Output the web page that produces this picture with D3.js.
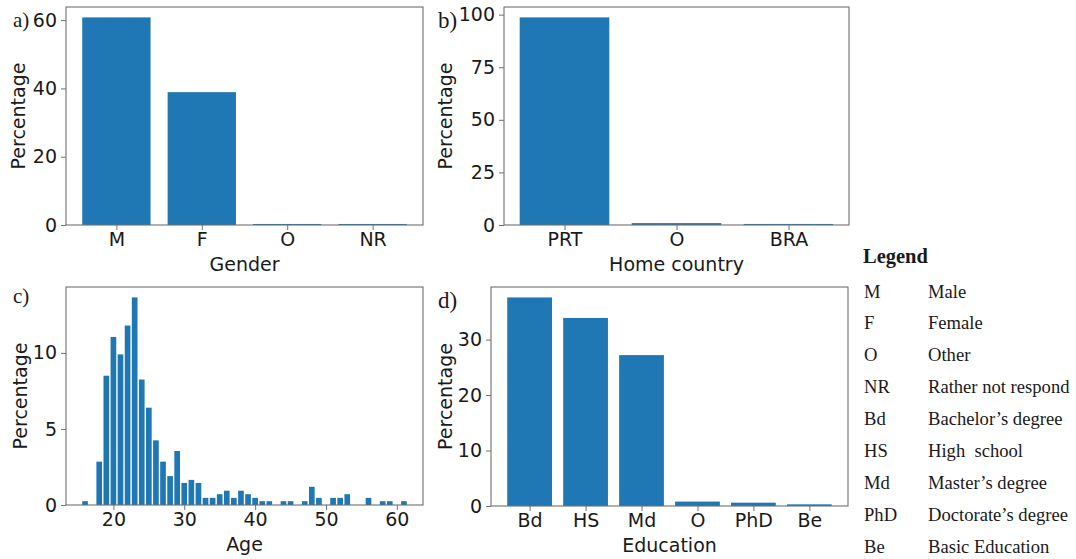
<!DOCTYPE html>
<html>
<head>
<meta charset="utf-8">
<script src="https://cdn.jsdelivr.net/npm/d3@7/dist/d3.min.js"></script>
<style>
  html, body { margin: 0; padding: 0; background: #fff; }
  svg { display: block; }
  .tick text { font-family: "DejaVu Sans", sans-serif; font-size: 19px; fill: #1a1a1a; }
  .axlabel { font-family: "DejaVu Sans", sans-serif; font-size: 19px; fill: #1a1a1a; }
  .panel { font-family: "Liberation Serif", "Times New Roman", serif; fill: #1a1a1a; }
  .leg { font-family: "Liberation Serif", "Times New Roman", serif; font-size: 18.6px; fill: #1a1a1a; }
</style>
</head>
<body>
<svg id="chart" width="1076" height="559"></svg>
<script>
// ---------- data ----------
const genderCats = ["M", "F", "O", "NR"];
const genderVals = [60.8, 38.9, 0.3, 0.3];

const countryCats = ["PRT", "O", "BRA"];
const countryVals = [98.7, 0.9, 0.5];

const ages = [16, 18, 19, 20, 21, 22, 23, 24, 25, 26, 27, 28, 29, 30, 31, 32, 33, 34, 35, 36, 37, 38, 39, 40,
              41, 42, 44, 45, 47, 48, 49, 51, 52, 53, 56, 58, 59, 61];
const agePct = [0.25, 2.85, 8.5, 11.05, 9.9, 11.8, 13.65, 8.25, 6.4, 4.25, 2.85, 1.9, 3.55, 1.45, 1.65, 1.45, 0.47, 0.47, 0.71, 0.94, 0.47, 0.94, 0.71, 0.47,
                0.25, 0.25, 0.25, 0.25, 0.25, 1.2, 0.47, 0.47, 0.47, 0.71, 0.47, 0.25, 0.25, 0.25];
const ageTicks = [20, 30, 40, 50, 60];

const eduCats = ["Bd", "HS", "Md", "O", "PhD", "Be"];
const eduVals = [37.6, 33.9, 27.2, 0.8, 0.6, 0.3];

const legendCodes = ["M", "F", "O", "NR", "Bd", "HS", "Md", "PhD", "Be"];
const legendNames = ["Male", "Female", "Other", "Rather not respond", "Bachelor\u2019s degree", "High  school",
                     "Master\u2019s degree", "Doctorate\u2019s degree", "Basic Education"];

// ---------- drawing ----------
const svg = d3.select("#chart");
const BLUE = "#1f77b4";
const SPINE = "#707070";

function frame(g, box) {
  g.append("rect")
    .attr("x", box.left).attr("y", box.top)
    .attr("width", box.right - box.left).attr("height", box.bottom - box.top)
    .attr("fill", "none").attr("stroke", SPINE).attr("stroke-width", 1.1);
}

function styleAxis(sel) {
  sel.select(".domain").remove();
  sel.selectAll(".tick line").attr("stroke", SPINE).attr("stroke-width", 1);
}

function yAxis(g, box, y, ticks, labelOffset) {
  const ax = g.append("g").attr("transform", `translate(${box.left},0)`)
    .call(d3.axisLeft(y).tickValues(ticks).tickSize(5).tickPadding(4).tickFormat(d3.format("d")));
  styleAxis(ax);
  g.append("text").attr("class", "axlabel")
    .attr("transform", `translate(${box.left - labelOffset},${(box.top + box.bottom) / 2}) rotate(-90)`)
    .attr("text-anchor", "middle").text("Percentage");
}

function xLabel(g, box, text) {
  g.append("text").attr("class", "axlabel")
    .attr("x", (box.left + box.right) / 2).attr("y", box.bottom + 46)
    .attr("text-anchor", "middle").text(text);
}

function categoryPanel(box, cats, vals, yTicks, xTitle, labelOffset) {
  const g = svg.append("g");
  const n = cats.length;
  const m = 0.05 * (n - 0.2);
  const x = d3.scaleLinear().domain([-0.4 - m, n - 0.6 + m]).range([box.left, box.right]);
  const y = d3.scaleLinear().domain([0, d3.max(vals) * 1.05]).range([box.bottom, box.top]);
  g.selectAll("rect.bar").data(vals).join("rect").attr("class", "bar")
    .attr("x", (d, i) => x(i - 0.4))
    .attr("width", (d, i) => x(i + 0.4) - x(i - 0.4))
    .attr("y", d => y(d))
    .attr("height", d => y(0) - y(d))
    .attr("fill", BLUE);
  frame(g, box);
  const xa = g.append("g").attr("transform", `translate(0,${box.bottom})`)
    .call(d3.axisBottom(x).tickValues(d3.range(n)).tickSize(5).tickPadding(3).tickFormat(i => cats[i]));
  styleAxis(xa);
  yAxis(g, box, y, yTicks, labelOffset);
  xLabel(g, box, xTitle);
  return g;
}

// a) Gender
categoryPanel({ left: 66, right: 423, top: 7, bottom: 225 }, genderCats, genderVals, [0, 20, 40, 60], "Gender", 41);
// b) Home country
categoryPanel({ left: 504, right: 849, top: 7, bottom: 225 }, countryCats, countryVals, [0, 25, 50, 75, 100], "Home country", 52);
// d) Education
categoryPanel({ left: 491, right: 848, top: 287, bottom: 506 }, eduCats, eduVals, [0, 10, 20, 30], "Education", 39);

// c) Age histogram
(function () {
  const box = { left: 66, right: 423, top: 287, bottom: 505 };
  const g = svg.append("g");
  const lo = d3.min(ages) - 0.4, hi = d3.max(ages) + 0.4, m = 0.05 * (hi - lo);
  const x = d3.scaleLinear().domain([lo - m, hi + m]).range([box.left, box.right]);
  const y = d3.scaleLinear().domain([0, d3.max(agePct) * 1.05]).range([box.bottom, box.top]);
  g.selectAll("rect.bar").data(ages).join("rect").attr("class", "bar")
    .attr("x", a => x(a - 0.4))
    .attr("width", a => x(a + 0.4) - x(a - 0.4))
    .attr("y", (a, i) => y(agePct[i]))
    .attr("height", (a, i) => y(0) - y(agePct[i]))
    .attr("fill", BLUE);
  frame(g, box);
  const xa = g.append("g").attr("transform", `translate(0,${box.bottom})`)
    .call(d3.axisBottom(x).tickValues(ageTicks).tickSize(5).tickPadding(3).tickFormat(d3.format("d")));
  styleAxis(xa);
  yAxis(g, box, y, [0, 5, 10], 39);
  xLabel(g, box, "Age");
})();

// panel letters
const panelLetters = [
  { t: "a)", x: 13, y: 27, s: 21 },
  { t: "b)", x: 438, y: 28, s: 23 },
  { t: "c)", x: 13, y: 303, s: 21 },
  { t: "d)", x: 438, y: 308, s: 23 }
];
svg.selectAll("text.panel").data(panelLetters).join("text").attr("class", "panel")
  .attr("x", d => d.x).attr("y", d => d.y).style("font-size", d => d.s + "px").text(d => d.t);

// legend
const lg = svg.append("g");
lg.append("text").attr("class", "leg").attr("x", 863).attr("y", 263)
  .style("font-weight", "bold").style("font-size", "20.5px").text("Legend");
const rowY = d3.scaleLinear().domain([0, legendCodes.length - 1]).range([297.5, 552.5]);
lg.selectAll("text.code").data(legendCodes).join("text").attr("class", "leg code")
  .attr("x", 864).attr("y", (d, i) => rowY(i)).text(d => d);
lg.selectAll("text.name").data(legendNames).join("text").attr("class", "leg name")
  .attr("x", 928).attr("y", (d, i) => rowY(i)).style("white-space", "pre").text(d => d);
</script>
</body>
</html>
